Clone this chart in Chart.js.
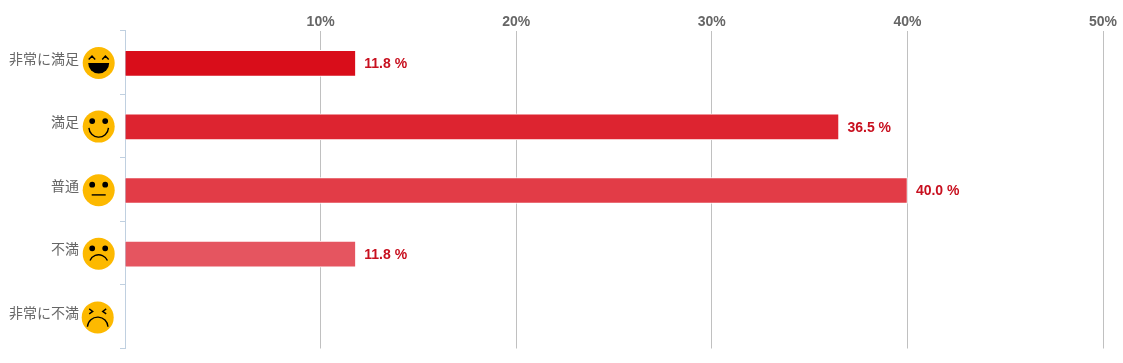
<!DOCTYPE html>
<html lang="ja">
  <head>
    <meta charset="UTF-8" />
    <title>満足度</title>
    <script src="https://cdn.jsdelivr.net/npm/chart.js"></script>
    <style>
      body { margin: 0; background: #fff; }
      canvas { display: block; }
    </style>
  </head>
  <body>
    <canvas id="myChartCanvas" width="1123" height="363"></canvas>
    <script>
      const categorias = ["非常に満足", "満足", "普通", "不満", "非常に不満"];
      const valores = [11.8, 36.5, 40.0, 11.8, 0];
      const ticksX = [10, 20, 30, 40, 50];
      const rostos = ["riso", "sorriso", "neutro", "triste", "bravo"];

      const coresBarras = ["#d90d1a", "#dd2430", "#e23c47", "#e55560", "#e86d75"];

      // desenha um rosto na posicao (x, y), raio 16
      function desenharRosto(ctx, tipo, x, y) {
        ctx.save();
        ctx.translate(x, y);
        ctx.fillStyle = "#fdb900";
        ctx.beginPath();
        ctx.arc(0, 0, 16, 0, Math.PI * 2);
        ctx.fill();

        ctx.fillStyle = "#000";
        ctx.strokeStyle = "#000";
        ctx.lineWidth = 1.4;

        if (tipo === "riso") {
          ctx.beginPath();
          ctx.moveTo(-10, -3.5);
          ctx.lineTo(-6.7, -7);
          ctx.lineTo(-3.5, -3.5);
          ctx.moveTo(3.5, -3.5);
          ctx.lineTo(6.7, -7);
          ctx.lineTo(10, -3.5);
          ctx.stroke();
          ctx.beginPath();
          ctx.arc(0, 0, 10.5, 0, Math.PI);
          ctx.closePath();
          ctx.fill();
        } else if (tipo === "bravo") {
          ctx.beginPath();
          ctx.moveTo(-8.5, -8.5);
          ctx.lineTo(-5, -6);
          ctx.lineTo(-8.5, -3.5);
          ctx.moveTo(8.5, -8.5);
          ctx.lineTo(5, -6);
          ctx.lineTo(8.5, -3.5);
          ctx.stroke();
          ctx.beginPath();
          ctx.arc(0, 10, 10.3, Math.PI * 1.02, Math.PI * 1.98);
          ctx.stroke();
        } else {
          ctx.beginPath();
          ctx.arc(-6.5, -5.5, 2.9, 0, Math.PI * 2);
          ctx.arc(6.5, -5.5, 2.9, 0, Math.PI * 2);
          ctx.fill();
          ctx.beginPath();
          if (tipo === "sorriso") {
            ctx.arc(0, 0.7, 9.8, Math.PI * 0.02, Math.PI * 0.98);
          } else if (tipo === "neutro") {
            ctx.moveTo(-7, 4.7);
            ctx.lineTo(7, 4.7);
          } else {
            ctx.arc(0, 10.5, 9.5, Math.PI * 1.13, Math.PI * 1.87);
          }
          ctx.stroke();
        }
        ctx.restore();
      }

      const pluginRostos = {
        id: "rostos",
        afterDraw(chart) {
          const escala = chart.scales.y;
          rostos.forEach(function (tipo, i) {
            const ajuste = i === 4 ? 27.3 : 26.3;
            desenharRosto(chart.ctx, tipo, escala.right - ajuste, escala.getPixelForTick(i) + 0.7);
          });
        },
      };

      // barras e rotulos ficam 1px abaixo do centro da faixa
      const pluginRotulos = {
        id: "rotulos",
        beforeDatasetsDraw(chart) {
          chart.ctx.save();
          chart.ctx.translate(0, 1);
        },
        afterDatasetsDraw(chart) {
          const ctx = chart.ctx;
          ctx.font = "bold 14px 'Liberation Sans', Arial, sans-serif";
          ctx.fillStyle = "#c8101f";
          ctx.textAlign = "left";
          ctx.textBaseline = "middle";
          chart.getDatasetMeta(0).data.forEach(function (barra, i) {
            if (valores[i] > 0) {
              ctx.fillText(`${valores[i].toFixed(1)} %`, barra.x + 8.5, barra.y + 1);
            }
          });
          ctx.restore();
        },
      };

      new Chart(document.getElementById("myChartCanvas"), {
        type: "bar",
        data: {
          labels: categorias,
          datasets: [
            {
              data: valores,
              backgroundColor: coresBarras,
              borderColor: "#ffffff",
              borderWidth: 1,
              barThickness: 26,
            },
          ],
        },
        options: {
          indexAxis: "y",
          responsive: false,
          animation: false,
          layout: { padding: { top: 0, right: 20, bottom: 14.5, left: 0 } },
          plugins: {
            legend: { display: false },
            tooltip: { enabled: false },
          },
          scales: {
            x: {
              position: "top",
              min: 0,
              max: 50,
              afterFit(escala) {
                escala.height = 30.5;
                escala.paddingLeft = 0;
                escala.paddingRight = 0;
              },
              afterBuildTicks(escala) {
                escala.ticks = [0].concat(ticksX).map(function (v) {
                  return { value: v };
                });
              },
              grid: {
                drawTicks: false,
                color(c) {
                  return c.tick.value === 0 ? "rgba(0,0,0,0)" : "#c0c0c0";
                },
              },
              border: { display: false },
              ticks: {
                padding: 0,
                maxRotation: 0,
                autoSkip: false,
                color: "#666666",
                font: { family: "'Liberation Sans', Arial, sans-serif", size: 14, weight: "bold" },
                callback(v) {
                  return v === 0 ? "" : `${v}%`;
                },
              },
            },
            y: {
              afterFit(escala) {
                escala.width = 125;
                escala.paddingTop = 0;
                escala.paddingBottom = 0;
              },
              grid: {
                drawOnChartArea: false,
                tickLength: 5,
                tickColor: "#c0d0e0",
              },
              border: { color: "#c0d0e0" },
              ticks: {
                padding: 41,
                autoSkip: false,
                color: "#666666",
                font: { family: "'Noto Sans CJK JP', sans-serif", size: 14, lineHeight: "8px" },
                callback(v, i) {
                  // segunda linha vazia sobe o texto em relacao ao centro da faixa
                  return [categorias[i], ""];
                },
              },
            },
          },
        },
        plugins: [pluginRostos, pluginRotulos],
      });
    </script>
  </body>
</html>
